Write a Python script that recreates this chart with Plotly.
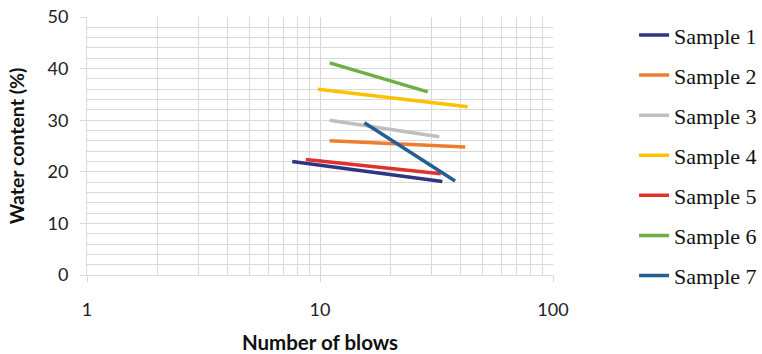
import plotly.graph_objects as go

# Flow-curve data: number of blows vs. water content for each sample
samples = ["Sample 1", "Sample 2", "Sample 3", "Sample 4", "Sample 5", "Sample 6", "Sample 7"]
blows = [
    [7.6, 33.5],
    [11.0, 42.0],
    [11.0, 32.5],
    [9.8, 43.0],
    [8.7, 33.0],
    [11.0, 29.0],
    [15.5, 38.0],
]
water = [
    [22.0, 18.1],
    [26.0, 24.8],
    [30.0, 26.8],
    [36.0, 32.6],
    [22.4, 19.6],
    [41.1, 35.5],
    [29.5, 18.2],
]
colors = ["#2E3583", "#ED7D31", "#BFBFBF", "#FFC000", "#E0322A", "#70AD47", "#255E91"]

fig = go.Figure()
for name, xs, ys, c in zip(samples, blows, water, colors):
    fig.add_trace(go.Scatter(
        x=xs, y=ys, name=name, mode="lines",
        line=dict(color=c, width=3.5),
        legendgroup=name,
    ))

grid = "#D9D9D9"
tick_font = dict(family="Lato, Open Sans, sans-serif", size=18, color="#222")
xtitle_font = dict(family="Lato, Open Sans, sans-serif", size=20.5, color="#111")
ytitle_font = dict(family="Lato, Open Sans, sans-serif", size=19.5, color="#111")

fig.update_layout(
    width=762, height=354,
    margin=dict(l=87, r=209, t=17, b=79, autoexpand=False),
    paper_bgcolor="white", plot_bgcolor="white",
    showlegend=True,
    legend=dict(
        x=1.174, xanchor="left", y=1.011, yanchor="top",
        font=dict(family="Liberation Serif, Times New Roman, serif", size=22, color="#111"),
        tracegroupgap=8.5,
        itemwidth=30,
        maxheight=1,
    ),
    xaxis=dict(
        type="log", range=[0, 2], dtick=1,
        showgrid=True, gridcolor=grid, gridwidth=1,
        minor=dict(showgrid=True, gridcolor=grid, gridwidth=1, dtick="D1", ticks=""),
        ticks="outside", ticklen=6, tickcolor=grid,
        showline=True, linecolor=grid,
        tickfont=tick_font, ticklabelstandoff=12,
        title=dict(text="<b>Number of blows</b>", font=xtitle_font, standoff=19),
        zeroline=False,
    ),
    yaxis=dict(
        range=[0, 50], dtick=10,
        showgrid=True, gridcolor=grid, gridwidth=1,
        minor=dict(showgrid=True, gridcolor=grid, gridwidth=1, dtick=2, ticks=""),
        ticks="outside", ticklen=6, tickcolor=grid,
        showline=True, linecolor=grid,
        tickfont=tick_font, ticklabelstandoff=8,
        title=dict(text="<b>Water content (%)</b>", font=ytitle_font, standoff=17),
        zeroline=False,
    ),
)

fig.write_html("out.html")
